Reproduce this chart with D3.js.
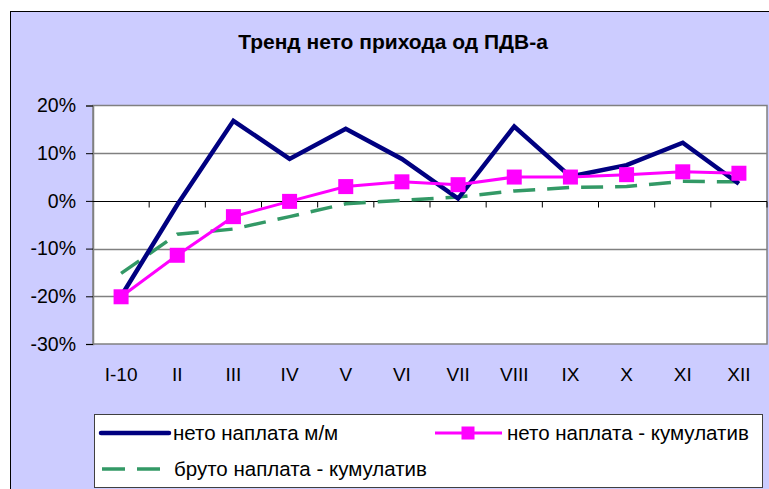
<!DOCTYPE html>
<html>
<head>
<meta charset="utf-8">
<script src="https://cdn.jsdelivr.net/npm/d3@7"></script>
<style>
  html, body { margin: 0; padding: 0; background: #fff; }
  svg { display: block; font-family: "Liberation Sans", Arial, sans-serif; }
</style>
</head>
<body>
<svg id="chart" width="769" height="489"></svg>
<script>
const categories = ["I-10", "II", "III", "IV", "V", "VI", "VII", "VIII", "IX", "X", "XI", "XII"];
const netoMM   = [-20, -0.8, 16.8, 8.8, 15.1, 8.8, 0.5, 15.6, 5.1, 7.5, 12.2, 3.6];
const netoKum  = [-20.1, -11.4, -3.3, -0.1, 3.0, 4.0, 3.4, 5.0, 5.0, 5.5, 6.1, 5.8];
const brutoKum = [-15.2, -7.0, -5.9, -3.3, -0.6, 0.1, 0.8, 2.1, 2.8, 3.0, 4.1, 4.0];
const yTicks = [-30, -20, -10, 0, 10, 20];
const title = "Тренд нето прихода од ПДВ-а";
const seriesNames = ["нето наплата м/м", "нето наплата - кумулатив", "бруто наплата - кумулатив"];

const svg = d3.select("#chart");
const W = 769, H = 489;

// outer chart area
svg.append("rect").attr("x", 10.5).attr("y", 11.5).attr("width", W + 10).attr("height", H + 10)
  .attr("fill", "#CCCCFF").attr("stroke", "#000").attr("stroke-width", 1);

svg.append("text").attr("x", 393).attr("y", 49).attr("text-anchor", "middle")
  .attr("font-weight", "bold").attr("font-size", 21).attr("fill", "#000").text(title);

const L = 93, R = 767, T = 105.5, B = 344;
const x = d3.scaleBand().domain(categories).range([L, R]);
const y = d3.scaleLinear().domain([-30, 20]).range([B, T]);

// plot area
svg.append("rect").attr("x", L).attr("y", T).attr("width", R - L).attr("height", B - T)
  .attr("fill", "#fff").attr("stroke", "#808080").attr("stroke-width", 1.5);

// gridlines
svg.append("g").selectAll("line").data(yTicks.filter(d => d !== 0 && d !== -30 && d !== 20)).join("line")
  .attr("x1", L).attr("x2", R).attr("y1", d => Math.round(y(d)) + 0.5).attr("y2", d => Math.round(y(d)) + 0.5)
  .attr("stroke", "#808080").attr("stroke-width", 1.5);

// y axis
const yAxis = d3.axisLeft(y).tickValues(yTicks).tickFormat(d => d + "%").tickSize(7).tickPadding(10);
const gy = svg.append("g").attr("transform", `translate(${L},0)`).call(yAxis);
gy.select(".domain").attr("stroke", "#808080").attr("stroke-width", 1.5);
gy.selectAll(".tick line").attr("stroke", "#000");
gy.selectAll(".tick text").attr("font-size", 19.5).attr("fill", "#000").attr("font-family", "Liberation Sans, Arial, sans-serif");

// zero axis with category ticks
const zeroY = Math.round(y(0)) + 0.5;
svg.append("line").attr("x1", L).attr("x2", R).attr("y1", zeroY).attr("y2", zeroY)
  .attr("stroke", "#000").attr("stroke-width", 1.2);
const bounds = categories.map(c => x(c) + x.bandwidth());
svg.append("g").selectAll("line").data(bounds).join("line")
  .attr("x1", d => d).attr("x2", d => d).attr("y1", zeroY).attr("y2", zeroY + 6)
  .attr("stroke", "#000").attr("stroke-width", 1);

// x labels
const xAxis = d3.axisBottom(x).tickSize(0).tickPadding(0);
const gx = svg.append("g").attr("transform", `translate(0,${B})`).call(xAxis);
gx.select(".domain").remove();
gx.selectAll(".tick text").attr("font-size", 19).attr("fill", "#000").attr("dy", null).attr("y", 37)
  .attr("font-family", "Liberation Sans, Arial, sans-serif");

const cx = (d, i) => x(categories[i]) + x.bandwidth() / 2;
const line = d3.line().x((d, i) => cx(d, i)).y(d => y(d));

svg.append("path").datum(brutoKum).attr("d", line).attr("fill", "none")
  .attr("stroke", "#339966").attr("stroke-width", 3.5).attr("stroke-dasharray", "22,12");

svg.append("path").datum(netoMM).attr("d", line).attr("fill", "none")
  .attr("stroke", "#000080").attr("stroke-width", 4.5).attr("stroke-linejoin", "miter");

svg.append("path").datum(netoKum).attr("d", line).attr("fill", "none")
  .attr("stroke", "#FF00FF").attr("stroke-width", 3);
const ms = 15;
svg.append("g").selectAll("rect").data(netoKum).join("rect")
  .attr("x", (d, i) => cx(d, i) - ms / 2).attr("y", d => y(d) - ms / 2)
  .attr("width", ms).attr("height", ms).attr("fill", "#FF00FF");

// legend
const lg = svg.append("g");
lg.append("rect").attr("x", 94.5).attr("y", 414.5).attr("width", 668).attr("height", 73)
  .attr("fill", "#fff").attr("stroke", "#404040").attr("stroke-width", 1);
const r1 = 433, r2 = 469, fs = 20.5;
lg.append("line").attr("x1", 101).attr("x2", 169).attr("y1", r1).attr("y2", r1)
  .attr("stroke", "#000080").attr("stroke-width", 4.5).attr("stroke-linecap", "round");
lg.append("text").attr("x", 173).attr("y", r1).attr("dy", "0.35em").attr("font-size", fs).text(seriesNames[0]);
lg.append("line").attr("x1", 435).attr("x2", 502).attr("y1", r1).attr("y2", r1)
  .attr("stroke", "#FF00FF").attr("stroke-width", 3);
lg.append("rect").attr("x", 468 - 6.5).attr("y", r1 - 6.5).attr("width", 13).attr("height", 13).attr("fill", "#FF00FF");
lg.append("text").attr("x", 507).attr("y", r1).attr("dy", "0.35em").attr("font-size", fs).text(seriesNames[1]);
lg.append("line").attr("x1", 102).attr("x2", 160).attr("y1", r2).attr("y2", r2)
  .attr("stroke", "#339966").attr("stroke-width", 3.5).attr("stroke-dasharray", "23,12");
lg.append("text").attr("x", 174).attr("y", r2).attr("dy", "0.35em").attr("font-size", fs).text(seriesNames[2]);
</script>
</body>
</html>
